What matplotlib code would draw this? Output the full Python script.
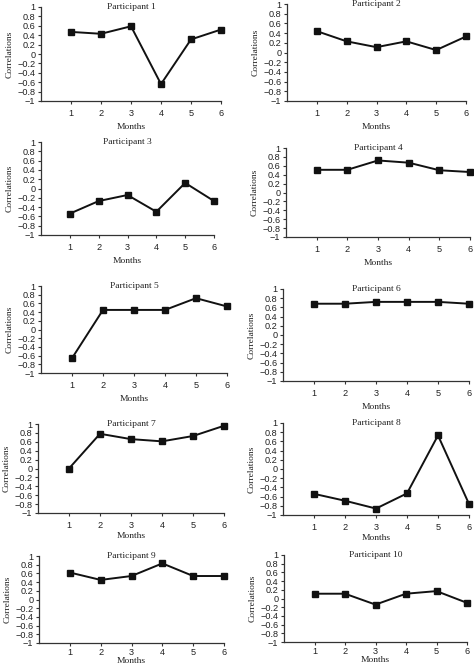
import numpy as np
import matplotlib
matplotlib.use("Agg")
import matplotlib.pyplot as plt
from matplotlib.ticker import FuncFormatter

# ── Data ─────────────────────────────────────────────
months = [1, 2, 3, 4, 5, 6]
titles = [f"Participant {i}" for i in range(1, 11)]

p1 = [0.47, 0.43, 0.59, -0.64, 0.31, 0.52]
p2 = [0.44, 0.23, 0.11, 0.23, 0.05, 0.33]
p3 = [-0.54, -0.27, -0.14, -0.50, 0.12, -0.27]
p4 = [0.51, 0.51, 0.72, 0.67, 0.50, 0.46]
p5 = [-0.66, 0.45, 0.45, 0.45, 0.72, 0.53]
p6 = [0.68, 0.68, 0.72, 0.72, 0.72, 0.68]
p7 = [0.00, 0.78, 0.66, 0.61, 0.73, 0.96]
p8 = [-0.54, -0.69, -0.86, -0.53, 0.73, -0.76]
p9 = [0.62, 0.45, 0.54, 0.83, 0.54, 0.54]
p10 = [0.11, 0.11, -0.14, 0.11, 0.17, -0.10]
series = [p1, p2, p3, p4, p5, p6, p7, p8, p9, p10]

yticks = np.round(np.linspace(-1, 1, 11), 1)

# panel boxes in pixels: x0, x1, ytop, ybottom
W, H = 474, 668
boxes = [
    (41, 221, 7, 101), (287, 466, 4, 101),
    (41, 214, 142, 235), (286, 470, 148, 237),
    (41, 227, 286, 373), (283, 469, 289, 381),
    (38, 224, 424, 513), (283, 469, 423, 515),
    (39, 224, 556, 643), (284, 467, 555, 642),
]
# bottom row is squeezed tighter in the original
xtick_pads = [3.5, 3.5, 3.5, 3.5, 3.5, 3.5, 3.0, 3.0, 1.0, 1.0]
xlabel_pads = [3.5, 3.5, 3.5, 3.5, 3.5, 3.5, 2, 2, 0.0, 0.0]

serif = "Liberation Serif"
sans = "Liberation Sans"
fmt = FuncFormatter(lambda v, p: f"{v:g}".replace("-", "\u2212"))

fig = plt.figure(figsize=(W / 100, H / 100), dpi=100)

for i, (vals, title, (x0, x1, yt, yb)) in enumerate(zip(series, titles, boxes)):
    ax = fig.add_axes([x0 / W, 1 - yb / H, (x1 - x0) / W, (yb - yt) / H])
    ax.plot(months, vals, color="#111111", lw=1.4, marker="s", ms=4.3,
            clip_on=False, zorder=3)
    ax.set_xlim(0, 6)
    ax.set_ylim(-1, 1)
    ax.set_xticks(months)
    ax.set_yticks(yticks)
    ax.yaxis.set_major_formatter(fmt)
    for s in ["top", "right"]:
        ax.spines[s].set_visible(False)
    for s in ["left", "bottom"]:
        ax.spines[s].set_color("#333333")
        ax.spines[s].set_linewidth(0.9)
    ax.tick_params(length=2.5, width=0.8, color="#333333", labelsize=6.6,
                   labelcolor="#222222", pad=1.5)
    ax.tick_params(axis="x", pad=xtick_pads[i])
    for lab in ax.get_xticklabels() + ax.get_yticklabels():
        lab.set_fontfamily(sans)
    ax.set_xlabel("Months", fontsize=6.8, family=serif, labelpad=xlabel_pads[i],
                  color="#222222")
    ax.set_ylabel("Correlations", fontsize=6.8, family=serif, labelpad=2.5, color="#222222")
    ax.text(0.5, 1.0, title, transform=ax.transAxes, ha="center", va="center",
            fontsize=6.8, family=serif, color="#222222")

fig.savefig("out.png", dpi=100)
